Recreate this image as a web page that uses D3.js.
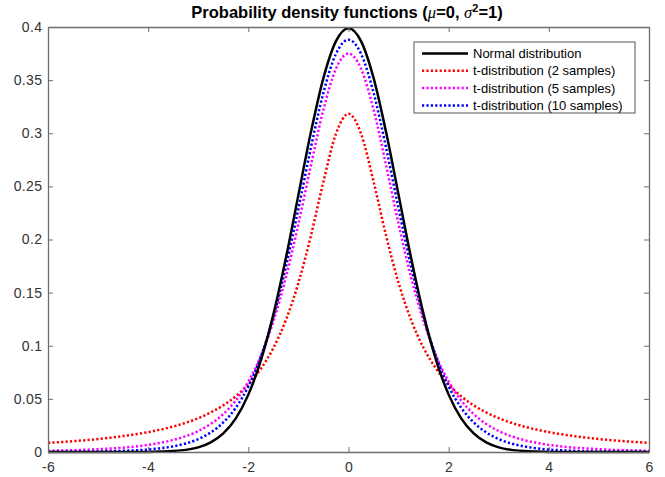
<!DOCTYPE html>
<html>
<head>
<meta charset="utf-8">
<script src="https://cdn.jsdelivr.net/npm/d3@7"></script>
<style>
  body { margin: 0; background: #fff; }
  text { font-family: "Liberation Sans", Arial, sans-serif; }
</style>
</head>
<body>
<div id="chart"></div>
<script>
// x positions (step 0.25) and densities
var xs = d3.range(-6, 6.001, 0.25);

var normal = [0, 0, 0, 0, 0, 0, 0, 0, 0.0001, 0.0004, 0.0009, 0.0020, 0.0044, 0.0091, 0.0175, 0.0317,
  0.0540, 0.0863, 0.1295, 0.1826, 0.2420, 0.3011, 0.3521, 0.3867, 0.3989, 0.3867, 0.3521, 0.3011,
  0.2420, 0.1826, 0.1295, 0.0863, 0.0540, 0.0317, 0.0175, 0.0091, 0.0044, 0.0020, 0.0009, 0.0004,
  0.0001, 0, 0, 0, 0, 0, 0, 0, 0];

var t2 = [0.0086, 0.0093, 0.0102, 0.0111, 0.0122, 0.0135, 0.0150, 0.0167, 0.0187, 0.0211, 0.0240,
  0.0275, 0.0318, 0.0372, 0.0439, 0.0525, 0.0637, 0.0784, 0.0979, 0.1242, 0.1592, 0.2037, 0.2546,
  0.2996, 0.3183, 0.2996, 0.2546, 0.2037, 0.1592, 0.1242, 0.0979, 0.0784, 0.0637, 0.0525, 0.0439,
  0.0372, 0.0318, 0.0275, 0.0240, 0.0211, 0.0187, 0.0167, 0.0150, 0.0135, 0.0122, 0.0111, 0.0102,
  0.0093, 0.0086];

var t5 = [0.0012, 0.0014, 0.0017, 0.0021, 0.0027, 0.0033, 0.0041, 0.0052, 0.0067, 0.0087, 0.0113,
  0.0148, 0.0197, 0.0264, 0.0357, 0.0485, 0.0663, 0.0905, 0.1229, 0.1644, 0.2147, 0.2699, 0.3223,
  0.3608, 0.3750, 0.3608, 0.3223, 0.2699, 0.2147, 0.1644, 0.1229, 0.0905, 0.0663, 0.0485, 0.0357,
  0.0264, 0.0197, 0.0148, 0.0113, 0.0087, 0.0067, 0.0052, 0.0041, 0.0033, 0.0027, 0.0021, 0.0017,
  0.0014, 0.0012];

var t10 = [0.0001, 0.0002, 0.0002, 0.0003, 0.0005, 0.0007, 0.0011, 0.0016, 0.0023, 0.0035, 0.0053,
  0.0080, 0.0121, 0.0184, 0.0278, 0.0417, 0.0617, 0.0897, 0.1271, 0.1743, 0.2291, 0.2865, 0.3383,
  0.3748, 0.3880, 0.3748, 0.3383, 0.2865, 0.2291, 0.1743, 0.1271, 0.0897, 0.0617, 0.0417, 0.0278,
  0.0184, 0.0121, 0.0080, 0.0053, 0.0035, 0.0023, 0.0016, 0.0011, 0.0007, 0.0005, 0.0003, 0.0002,
  0.0002, 0.0001];

var labels = ["Normal distribution", "t-distribution (2 samples)",
  "t-distribution (5 samples)", "t-distribution (10 samples)"];
var colors = ["#000000", "#ff0000", "#ff00ff", "#0000ff"];
var xTicks = [-6, -4, -2, 0, 2, 4, 6];
var yTicks = [0, 0.05, 0.1, 0.15, 0.2, 0.25, 0.3, 0.35, 0.4];

var margin = { top: 27, right: 16, bottom: 25, left: 48 },
    width = 665 - margin.left - margin.right,
    height = 477 - margin.top - margin.bottom;

var svg = d3.select("#chart")
    .append("svg")
    .attr("width", 665)
    .attr("height", 477)
    .append("g")
    .attr("transform", "translate(" + margin.left + "," + margin.top + ")");

var x = d3.scaleLinear().domain([-6, 6]).range([0, width]);
var y = d3.scaleLinear().domain([0, 0.4]).range([height, 0]);

var axisColor = "#6e6e6e", labelColor = "#333";

var series = [normal, t2, t5, t10];
var line = d3.line()
    .x(function (d) { return x(d[0]); })
    .y(function (d) { return y(d[1]); })
    .curve(d3.curveMonotoneX);

// t-curves first, normal curve on top
[1, 2, 3, 0].forEach(function (i) {
    var s = series[i];
    svg.append("path")
        .datum(xs.map(function (v, j) { return [v, s[j]]; }))
        .attr("fill", "none")
        .attr("stroke", colors[i])
        .attr("stroke-width", 2.5)
        .attr("stroke-dasharray", i == 0 ? null : "2.2,2.2")
        .attr("d", line);
});

// axes (ticks inward, closed box)
function styleAxis(g) {
    g.select(".domain").attr("stroke", axisColor).attr("stroke-width", 1.3);
    g.selectAll(".tick line").attr("stroke", axisColor);
    g.selectAll(".tick text").attr("fill", labelColor).style("font-size", "14px")
        .style("letter-spacing", "0.4px")
        .style("font-family", "'Liberation Sans', Arial, sans-serif");
}

svg.append("g")
    .attr("transform", "translate(0," + height + ")")
    .call(d3.axisBottom(x).tickValues(xTicks).tickSize(-5).tickPadding(10).tickSizeOuter(0)
        .tickFormat(function (d) { return String(d); }))
    .call(styleAxis);

svg.append("g")
    .call(d3.axisLeft(y).tickValues(yTicks).tickSize(-5).tickPadding(5.5).tickSizeOuter(0)
        .tickFormat(function (d) { return String(+d.toFixed(2)); }))
    .call(styleAxis);

svg.append("g")
    .call(d3.axisTop(x).tickValues(xTicks).tickSize(-5).tickSizeOuter(0).tickFormat(""))
    .call(styleAxis);

svg.append("g")
    .attr("transform", "translate(" + width + ",0)")
    .call(d3.axisRight(y).tickValues(yTicks).tickSize(-5).tickSizeOuter(0).tickFormat(""))
    .call(styleAxis);

// title
var title = svg.append("text")
    .attr("x", 347 - margin.left)
    .attr("y", -9)
    .attr("text-anchor", "middle")
    .style("font-size", "16.5px")
    .style("font-weight", "bold")
    .attr("fill", "#000");
title.append("tspan").text("Probability density functions (");
title.append("tspan").text("\u03BC").style("font-family", "'Liberation Serif', serif").style("font-style", "italic").style("font-weight", "normal");
title.append("tspan").text("=0, ");
title.append("tspan").text("\u03C3").style("font-family", "'Liberation Serif', serif").style("font-style", "italic").style("font-weight", "normal");
title.append("tspan").text("2").attr("dy", -6).style("font-size", "11px");
title.append("tspan").text("=1)").attr("dy", 6);

// legend
var lg = svg.append("g").attr("transform", "translate(" + (414 - margin.left) + "," + (42 - margin.top) + ")");
lg.append("rect")
    .attr("width", 221).attr("height", 71)
    .attr("fill", "#fff").attr("stroke", "#555").attr("stroke-width", 1);

labels.forEach(function (l, i) {
    var cy = 11.5 + i * 17.3;
    lg.append("line")
        .attr("x1", 8).attr("x2", 54).attr("y1", cy).attr("y2", cy)
        .attr("stroke", colors[i]).attr("stroke-width", 2.5)
        .attr("stroke-dasharray", i == 0 ? null : "2.2,2.2");
    lg.append("text")
        .attr("x", 59).attr("y", cy + 4.5)
        .style("font-size", "13px")
        .attr("fill", "#000")
        .text(l);
});
</script>
</body>
</html>
